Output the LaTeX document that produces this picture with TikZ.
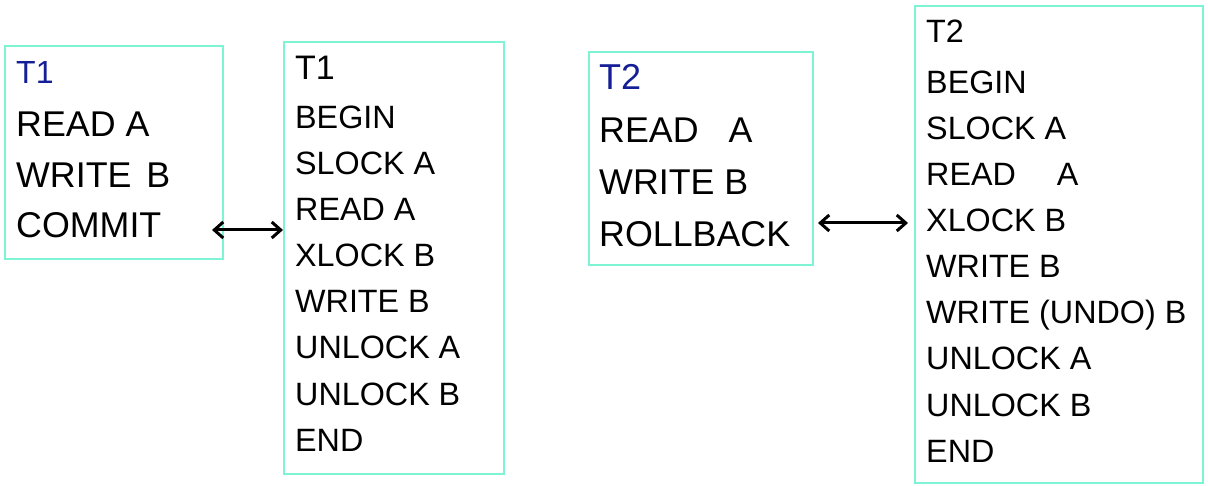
\documentclass[tikz,border=0pt]{standalone}
\usepackage{fontspec}
\setmainfont{Liberation Sans}
\usepackage{tikz}
\usetikzlibrary{arrows.meta}
\definecolor{boxcolor}{RGB}{125, 245, 212}
\definecolor{titlecolor}{RGB}{20, 30, 150}
\newcommand{\bigtx}{\fontsize{35.8}{40}\selectfont}
\newcommand{\smalltx}{\fontsize{32.3}{36}\selectfont}
\tikzset{
    barb/.tip={Straight Barb[length=9pt, width=16pt, line width=3pt]},
    dbl/.style={line width=3pt, barb-barb}
}

\begin{document}
\begin{tikzpicture}[x=1pt, y=-1pt,
    txbox/.style={draw=boxcolor, line width=1.8pt, anchor=north west, inner sep=0pt},
    ln/.style={anchor=base west, inner sep=0pt}]
    \useasboundingbox (0,0) rectangle (1208,486);
            % boxes
            \node[txbox, minimum width=218pt, minimum height=213pt] (plainT1) at (4,45) {};
            \node[txbox, minimum width=220pt, minimum height=432pt] (lockT1) at (283,41) {};
            \node[txbox, minimum width=224pt, minimum height=213pt] (plainT2) at (588,51) {};
            \node[txbox, minimum width=288pt, minimum height=477pt] (lockT2) at (914,5) {};
            % T1 as written
            \node[ln, text=titlecolor, font=\fontsize{32}{36}\selectfont] (p1t) at (16,84) {T1};
            \foreach \s [count=\i] in {READ A, WRITE\hspace{5pt} B, COMMIT}
                \node[ln, font=\bigtx] (p1\i) at (16,137+50.5*\i-50.5) {\s};
            % T1 with locks
            \node[ln, font=\fontsize{34}{38}\selectfont] (l1t) at (295,80) {T1};
            \foreach \s [count=\i] in {BEGIN, SLOCK A, READ A, XLOCK B, WRITE B, UNLOCK A, UNLOCK B, END}
                \node[ln, font=\smalltx] (l1\i) at (295,129+46*\i-46) {\s};
            % T2 as written
            \node[ln, text=titlecolor, font=\fontsize{36}{40}\selectfont] (p2t) at (599,90) {T2};
            \foreach \s [count=\i] in {READ\hspace{20pt} A, WRITE B, ROLLBACK}
                \node[ln, font=\bigtx] (p2\i) at (599,143+52*\i-52) {\s};
            % T2 with locks
            \node[ln, font=\smalltx] (l2t) at (926,43) {T2};
            \foreach \s [count=\i] in {BEGIN, SLOCK A, READ\hspace{32pt} A, XLOCK B, WRITE B, WRITE (UNDO) B, UNLOCK A, UNLOCK B, END}
                \node[ln, font=\smalltx] (l2\i) at (926,94+46*\i-46) {\s};
            % arrows
            \coordinate (c1) at (212,230);
            \coordinate (c2) at (818,223);
            \draw[dbl] (c1) -- (c1 -| lockT1.west);
            \draw[dbl] (c2) -- ([xshift=-6pt]c2 -| lockT2.west);
        \end{tikzpicture}
\end{document}
